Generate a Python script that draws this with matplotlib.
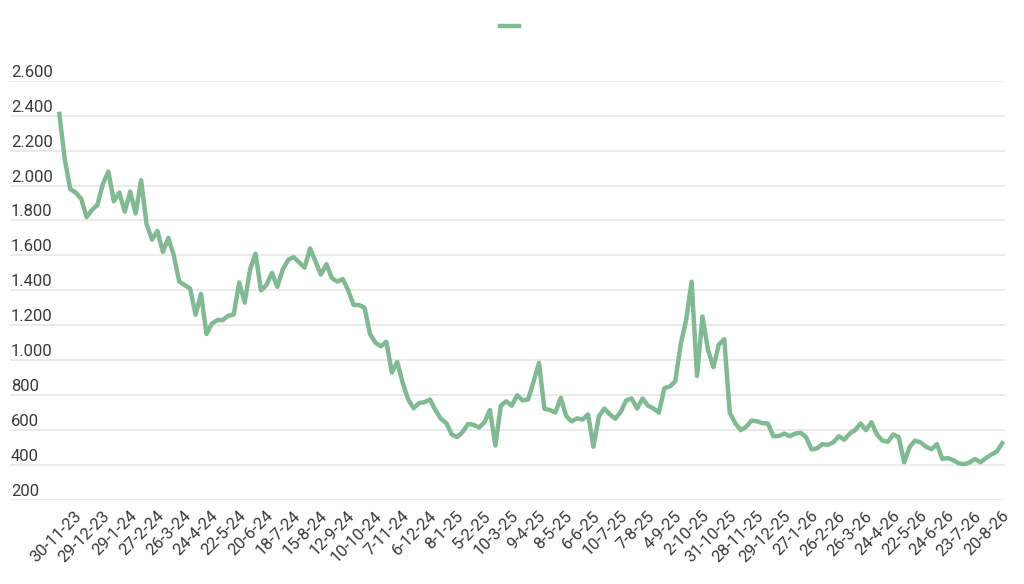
import numpy as np
import matplotlib
matplotlib.use('Agg')
import matplotlib.pyplot as plt
import matplotlib.transforms as mtransforms

plt.rcParams['font.family'] = ['Roboto', 'DejaVu Sans']

# date labels shown on the x axis (one every 5 samples)
labels = ['30-11-23', '29-12-23', '29-1-24', '27-2-24', '26-3-24', '24-4-24',
          '22-5-24', '20-6-24', '18-7-24', '15-8-24', '12-9-24', '10-10-24',
          '7-11-24', '6-12-24', '8-1-25', '5-2-25', '10-3-25', '9-4-25',
          '8-5-25', '6-6-25', '10-7-25', '7-8-25', '4-9-25', '2-10-25',
          '31-10-25', '28-11-25', '29-12-25', '27-1-26', '26-2-26', '26-3-26',
          '24-4-26', '22-5-26', '24-6-26', '23-7-26', '20-8-26']
step = 5

# series values
values = [2410, 2150, 1980, 1960, 1925, 1820, 1860, 1890, 2010, 2080,
          1910, 1960, 1850, 1965, 1840, 2030, 1780, 1690, 1740, 1620,
          1700, 1600, 1450, 1430, 1410, 1260, 1380, 1150, 1210, 1230,
          1230, 1255, 1262, 1445, 1330, 1520, 1610, 1400, 1430, 1500,
          1420, 1520, 1575, 1590, 1560, 1530, 1640, 1565, 1490, 1550,
          1470, 1450, 1465, 1400, 1316, 1316, 1300, 1150, 1100, 1080,
          1106, 930, 990, 870, 775, 725, 755, 760, 775, 715,
          665, 640, 575, 560, 590, 636, 630, 615, 645, 715,
          512, 740, 765, 740, 800, 770, 775, 876, 985, 722,
          715, 700, 785, 680, 650, 667, 660, 690, 505, 680,
          724, 690, 665, 705, 770, 781, 724, 781, 740, 724,
          700, 840, 850, 880, 1090, 1230, 1450, 910, 1250, 1060,
          960, 1090, 1120, 700, 640, 600, 619, 655, 650, 640,
          638, 565, 566, 580, 565, 580, 585, 560, 490, 495,
          520, 515, 530, 565, 545, 580, 600, 638, 600, 645,
          575, 540, 533, 575, 560, 416, 503, 540, 530, 505,
          490, 520, 435, 440, 428, 410, 405, 415, 435, 416,
          440, 460, 478, 525]

yticks = list(range(200, 2601, 200))

color = '#7FBA92'
text_color = '#3a3a3a'

fig = plt.figure(figsize=(10.24, 5.84), dpi=100)
ax = fig.add_axes([10/1024, 1 - 500/584, 995/1024, (500 - 80.7)/584])

x = np.arange(len(values))
line, = ax.plot(x, values, color=color, lw=3.2, solid_joinstyle='round')

ax.set_xlim(-9.05, 173.5)
ax.set_ylim(200, 2600)

for s in ax.spines.values():
    s.set_visible(False)

ax.set_yticks(yticks)
ax.grid(axis='y', color='#e6e6e6', lw=1.2)
ax.grid(axis='x', visible=False)
ax.tick_params(axis='y', left=False, labelleft=False)

# y labels sit above their grid line
trans = mtransforms.blended_transform_factory(ax.transAxes, ax.transData)
trans = mtransforms.offset_copy(trans, fig=fig, x=1, y=4, units='dots')
for v in yticks:
    ax.text(0, v, f'{v:,}'.replace(',', '.'), transform=trans,
            ha='left', va='baseline', fontsize=12, color=text_color)

ax.set_xticks(np.arange(len(labels)) * step)
ax.set_xticklabels(labels, rotation=45, ha='right', va='top',
                   rotation_mode='anchor', fontsize=12, color=text_color)
ax.tick_params(axis='x', length=0, pad=6)
shift = mtransforms.ScaledTranslation(0.15, 0, fig.dpi_scale_trans)
for lab in ax.xaxis.get_majorticklabels():
    lab.set_transform(lab.get_transform() + shift)

ax.legend([line], [''], loc='center', bbox_to_anchor=(509.5/1024, 1 - 27.3/584),
          bbox_transform=fig.transFigure, frameon=False, handlelength=1.4,
          handletextpad=0, borderpad=0, borderaxespad=0)

fig.savefig('out.png', dpi=100)
